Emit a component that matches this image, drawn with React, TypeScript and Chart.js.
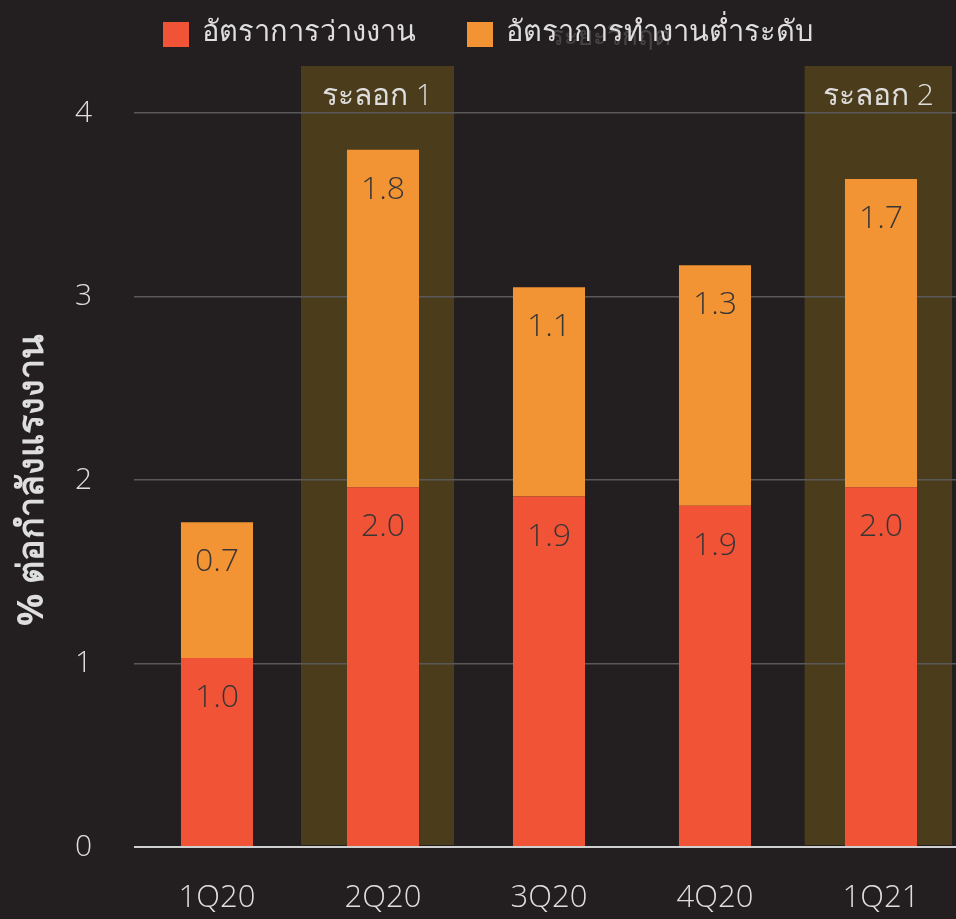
import React, { useEffect, useRef } from "react";
import { Chart, registerables } from "chart.js";

Chart.register(...registerables);

const categories = ["1Q20", "2Q20", "3Q20", "4Q20", "1Q21"];
const unemployment = [1.03, 1.96, 1.91, 1.86, 1.96];
const underemployment = [0.74, 1.84, 1.14, 1.31, 1.68];
const waveIndex = [1, 4];
const waveLabels = ["ระลอก 1", "ระลอก 2"];
const yTicks = [0, 1, 2, 3, 4];
const seriesNames = ["อัตราการว่างงาน", "อัตราการทำงานต่ำระดับ"];
const yTitle = "% ต่อกำลังแรงงาน";
const watermark = "ระยะวิกฤต";

const BG = "#231f20";
const RED = "#f15336";
const ORANGE = "#f29433";
const SHADE = "#4b3c1c";
const TXT = "#dedede";
const FONT = "'Open Sans', 'Noto Sans', sans-serif";

const bgPlugin = {
  id: "bgShade",
  beforeDraw(chart: any) {
    const { ctx, chartArea, scales } = chart;
    ctx.save();
    ctx.fillStyle = BG;
    ctx.fillRect(0, 0, chart.width, chart.height);
    const x = scales.x;
    const y = scales.y;
    const cw = (chartArea.right - chartArea.left) / categories.length;
    const top = y.getPixelForValue(4.256);
    const bottom = y.getPixelForValue(0) - 2;
    waveIndex.forEach((idx, k) => {
      const cx = x.getPixelForValue(idx);
      const l = cx - cw * (k === 0 ? 0.494 : 0.46);
      const r = cx + cw * 0.428;
      ctx.fillStyle = SHADE;
      ctx.fillRect(l, top, r - l, bottom - top);
      ctx.fillStyle = TXT;
      ctx.font = `300 30px ${FONT}`;
      ctx.textAlign = "center";
      ctx.textBaseline = "middle";
      ctx.fillText(waveLabels[k], (l + r) / 2, top + 30);
    });
    // watermark
    ctx.fillStyle = "rgba(255,255,255,0.17)";
    ctx.font = `300 26px ${FONT}`;
    ctx.textAlign = "center";
    ctx.textBaseline = "middle";
    ctx.fillText(watermark, 610, 38);
    // legend
    const colors = [RED, ORANGE];
    const boxX = [163, 467];
    ctx.font = `300 29px ${FONT}`;
    ctx.textAlign = "left";
    seriesNames.forEach((name, i) => {
      ctx.fillStyle = colors[i];
      ctx.fillRect(boxX[i], 22, 26, 25);
      ctx.fillStyle = TXT;
      ctx.fillText(name, boxX[i] + 39, 33);
    });
    // y title
    ctx.save();
    ctx.translate(33, 480);
    ctx.rotate(-Math.PI / 2);
    ctx.fillStyle = TXT;
    ctx.font = `bold 36px ${FONT}`;
    ctx.textAlign = "center";
    ctx.textBaseline = "middle";
    ctx.fillText(yTitle, 0, 0);
    ctx.restore();
    ctx.restore();
  },
};

const labelPlugin = {
  id: "segLabels",
  afterDatasetsDraw(chart: any) {
    const { ctx } = chart;
    ctx.save();
    ctx.fillStyle = "#3a3535";
    ctx.font = `300 32px ${FONT}`;
    ctx.textAlign = "center";
    ctx.textBaseline = "middle";
    chart.data.datasets.forEach((ds: any, di: number) => {
      const meta = chart.getDatasetMeta(di);
      meta.data.forEach((el: any, i: number) => {
        const v = ds.data[i];
        ctx.fillText(Number(v).toFixed(1), el.x, el.y + 40);
      });
    });
    ctx.restore();
  },
};

export default function App() {
  const ref = useRef<HTMLCanvasElement>(null);
  useEffect(() => {
    document.body.style.margin = "0";
    document.body.style.background = BG;
    const chart = new Chart(ref.current as HTMLCanvasElement, {
      type: "bar",
      data: {
        labels: categories,
        datasets: [
          {
            label: seriesNames[0],
            data: unemployment,
            backgroundColor: RED,
            stack: "s",
            barPercentage: 0.434,
            categoryPercentage: 1,
          },
          {
            label: seriesNames[1],
            data: underemployment,
            backgroundColor: ORANGE,
            stack: "s",
            barPercentage: 0.434,
            categoryPercentage: 1,
          },
        ],
      },
      options: {
        animation: false,
        responsive: false,
        maintainAspectRatio: false,
        layout: { padding: { top: 66, left: 0, right: 0, bottom: 0 } },
        plugins: {
          legend: { display: false },
          tooltip: { enabled: false },
        },
        scales: {
          x: {
            stacked: true,
            grid: { display: false, drawTicks: false },
            border: { display: false },
            afterFit: (s: any) => {
              s.height = 72;
            },
            ticks: {
              color: TXT,
              padding: 36,
              maxRotation: 0,
              font: { family: FONT, size: 31, weight: "300" as any, lineHeight: 1 },
            },
          },
          y: {
            stacked: true,
            min: 0,
            max: 4.256,
            afterBuildTicks: (scale: any) => {
              scale.ticks = yTicks.map((v) => ({ value: v }));
            },
            afterFit: (s: any) => {
              s.width = 134;
            },
            grid: {
              drawTicks: false,
              color: (c: any) => (c.tick && c.tick.value === 0 ? "#d0d0d0" : "#5a5858"),
              lineWidth: (c: any) => (c.tick && c.tick.value === 0 ? 2 : 1.5),
            },
            border: { display: false },
            ticks: {
              color: TXT,
              padding: 42,
              font: { family: FONT, size: 30, weight: "300" as any },
            },
          },
        },
      },
      plugins: [bgPlugin, labelPlugin],
    });
    return () => chart.destroy();
  }, []);
  return (
    <div style={{ width: 956, height: 919, overflow: "hidden", background: BG }}>
      <canvas ref={ref} width={964} height={919} style={{ display: "block" }} />
    </div>
  );
}
